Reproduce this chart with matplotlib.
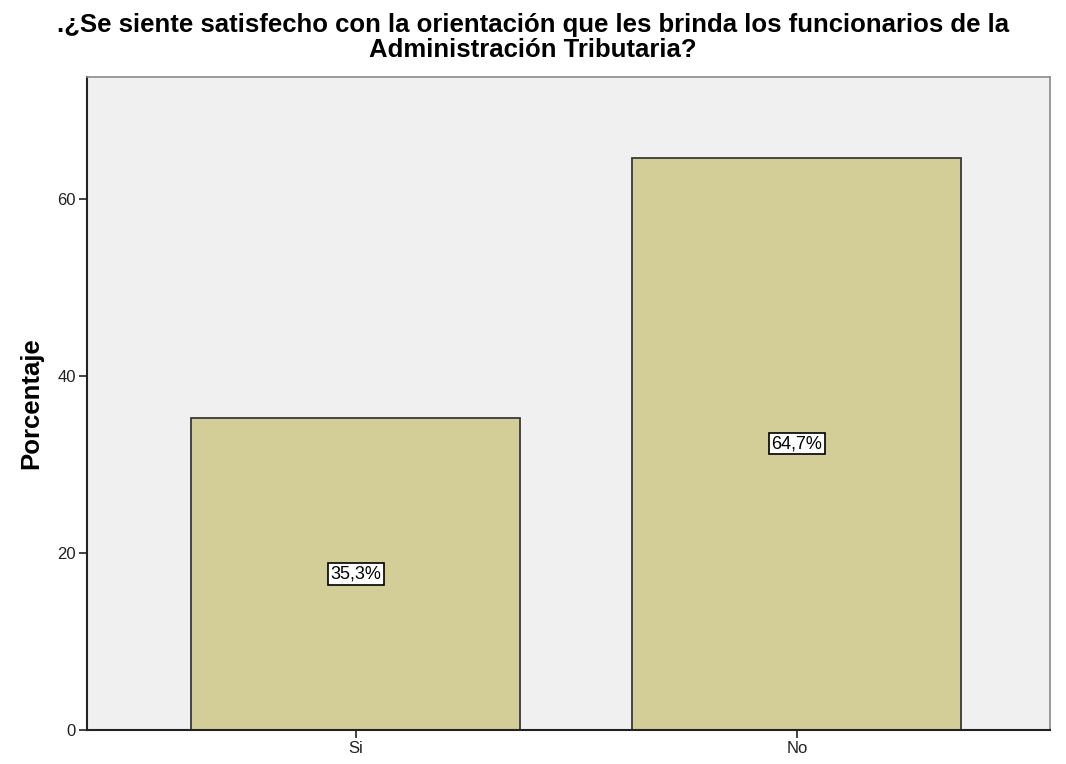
import matplotlib
matplotlib.use("Agg")
import matplotlib.pyplot as plt

categories = ["Si", "No"]
percentages = [35.3, 64.7]
bar_labels = ["35,3%", "64,7%"]
yticks = [0, 20, 40, 60]
title_lines = [".¿Se siente satisfecho con la orientación que les brinda los funcionarios de la",
               "Administración Tributaria?"]

plt.rcParams['font.family'] = ['Liberation Sans', 'DejaVu Sans']

W, H = 1066, 764
fig = plt.figure(figsize=(W / 100, H / 100), dpi=100)
ax = fig.add_axes([0.0816, 0.0445, 0.9034, 0.8545])
ax.set_facecolor("#F0F0F0")

x = list(range(len(categories)))
ax.bar(x, percentages, width=0.746, color="#D3CE97", edgecolor="#3a3a3a", linewidth=1.3, zorder=2)

for xi, v, lab in zip(x, percentages, bar_labels):
    ax.text(xi, v / 2, lab, ha="center", va="center", fontsize=13, zorder=3,
            bbox=dict(boxstyle="square,pad=0.12", facecolor="white", edgecolor="black", linewidth=1.2))

ax.set_xlim(-0.61, 1.574)
ax.set_ylim(0, 73.8)
ax.set_xticks(x)
ax.set_xticklabels(categories, fontsize=12)
ax.set_yticks(yticks)
ax.set_yticklabels([str(t) for t in yticks], fontsize=12)
ax.tick_params(axis="both", direction="out", length=6, width=1.2, color="#222222", colors="#222222", pad=2)

for side in ["left", "bottom"]:
    ax.spines[side].set_color("#222222")
    ax.spines[side].set_linewidth(1.5)
for side in ["top", "right"]:
    ax.spines[side].set_color("#8a8a8a")
    ax.spines[side].set_linewidth(1.2)

ax.set_ylabel("Porcentaje", fontsize=18.5, fontweight="bold", labelpad=10)

baselines_px = [32, 57]
for line, b in zip(title_lines, baselines_px):
    fig.text(0.5, 1 - b / H, line, ha="center", va="baseline", fontsize=18.5, fontweight="bold")

fig.savefig("out.png", dpi=100)
